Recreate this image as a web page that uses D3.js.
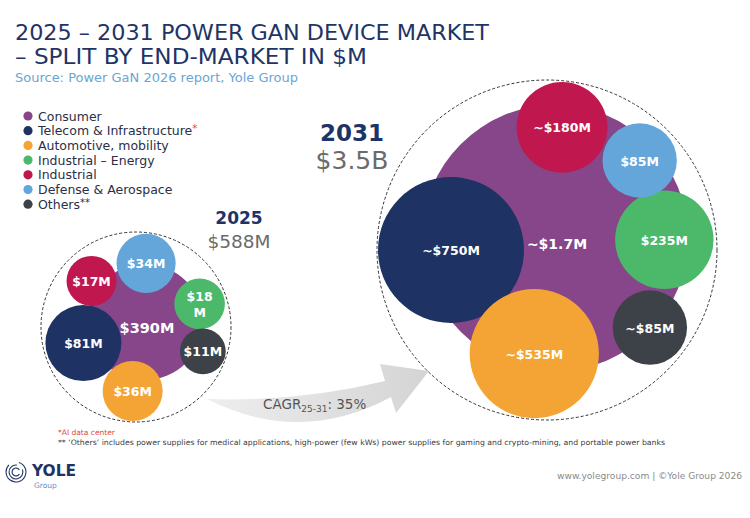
<!DOCTYPE html>
<html>
<head>
<meta charset="utf-8">
<script src="https://cdn.jsdelivr.net/npm/d3@7"></script>
<style>
  body { margin: 0; background: #fff; }
  svg { display: block; }
  text { font-family: "DejaVu Sans", "Open Sans", sans-serif; }
</style>
</head>
<body>
<svg id="chart"></svg>
<script>
// power GaN device market, split by end-market ($M)
var categories = ["Consumer", "Telecom & Infrastructure", "Automotive, mobility",
                  "Industrial \u2013 Energy", "Industrial", "Defense & Aerospace", "Others"];
var colors = ["#87468a", "#1e3263", "#f4a435", "#4cb86a", "#c0174f", "#64a6da", "#3c4248"];
var values2025 = [390, 81, 36, 18, 17, 34, 11];
var values2031 = [1700, 750, 535, 235, 180, 85, 85];
var labels2025 = ["$390M", "$81M", "$36M", "$18\nM", "$17M", "$34M", "$11M"];
var labels2031 = ["~$1.7M", "~$750M", "~$535M", "$235M", "~$180M", "$85M", "~$85M"];
var totals = ["$588M", "$3.5B"];
var years = ["2025", "2031"];
var cagr = "35%";

var svgWidth = 750, svgHeight = 518;
var navy = "#1f3466";

var svg = d3.select("#chart")
    .attr("width", svgWidth)
    .attr("height", svgHeight);

svg.append("rect").attr("width", svgWidth).attr("height", svgHeight).attr("fill", "#fff");

// title
svg.append("text").attr("x", 15).attr("y", 40)
    .attr("font-size", 21).attr("fill", navy)
    .attr("textLength", 474).attr("lengthAdjust", "spacingAndGlyphs")
    .text("2025 \u2013 2031 POWER GAN DEVICE MARKET");
svg.append("text").attr("x", 15).attr("y", 64)
    .attr("font-size", 21).attr("fill", navy)
    .attr("textLength", 352).attr("lengthAdjust", "spacingAndGlyphs")
    .text("\u2013 SPLIT BY END-MARKET IN $M");
svg.append("text").attr("x", 15).attr("y", 82)
    .attr("font-size", 13).attr("fill", "#6aa6d2")
    .attr("textLength", 283).attr("lengthAdjust", "spacingAndGlyphs")
    .text("Source: Power GaN 2026 report, Yole Group");

// legend
var legend = svg.selectAll("g.legend")
    .data(categories)
    .enter()
    .append("g")
    .attr("class", "legend")
    .attr("transform", function(d, i) {
        return "translate(28," + (116 + i * 14.7) + ")";
    });
legend.append("circle").attr("r", 4.6)
    .attr("fill", function(d, i) { return colors[i]; });
var legText = legend.append("text").attr("x", 10).attr("y", 4.5)
    .attr("font-size", 12.5).attr("fill", "#2b2f45")
    .text(function(d) { return d; });
legText.filter(function(d, i) { return i === 1; })
    .append("tspan").attr("fill", "#e0473f").attr("font-size", 10).attr("dy", -3).text("*");
legText.filter(function(d, i) { return i === 6; })
    .append("tspan").attr("font-size", 10).attr("dy", -3).text("**");

// arrow between the two years
var defs = svg.append("defs");
var grad = defs.append("linearGradient").attr("id", "arrowGrad")
    .attr("x1", "0%").attr("x2", "100%");
grad.append("stop").attr("offset", "0%").attr("stop-color", "#eeeeee");
grad.append("stop").attr("offset", "100%").attr("stop-color", "#d4d4d4");

var arrow = d3.path();
arrow.moveTo(207, 399);
arrow.quadraticCurveTo(300, 446, 391, 397);
arrow.lineTo(396, 413);
arrow.lineTo(429, 371);
arrow.lineTo(380, 364);
arrow.lineTo(385, 381);
arrow.quadraticCurveTo(300, 402, 207, 399);
arrow.closePath();
svg.append("path").attr("d", arrow.toString()).attr("fill", "url(#arrowGrad)");

var cagrText = svg.append("text").attr("x", 263).attr("y", 409)
    .attr("font-size", 13.5).attr("fill", "#555");
cagrText.append("tspan").text("CAGR");
cagrText.append("tspan").attr("font-size", 9).attr("dy", 3).text("25-31");
cagrText.append("tspan").attr("dy", -3).text(": " + cagr);

// panels: layout of each year's bubble cluster
var panels = [
    { values: values2025, labels: labels2025, cx: 136, cy: 327, R: 95,
      coreR: 58, coreDx: 9, coreDy: -5,
      rScale: d3.scaleSqrt().domain([0, 81]).range([14, 38]),
      angles: [0, 163, 93, 340, 226, 279, 20], gap: [0, 2, 1, 2, 6, 1, 1],
      fontSize: 12.5, coreFont: 14.5,
      yearX: 239, yearY: 224, yearSize: 17, totalY: 248, totalSize: 18.5 },
    { values: values2031, labels: labels2031, cx: 547, cy: 250, R: 170,
      coreR: 133, coreDx: 8, coreDy: -12,
      rScale: d3.scaleSqrt().domain([0, 750]).range([19, 73]),
      angles: [0, 180, 97, 355, 277, 316, 37], gap: [0, 1, 1, 3, 1, 4, 4],
      fontSize: 12.5, coreFont: 14,
      yearX: 352, yearY: 141, yearSize: 23, totalY: 169, totalSize: 25 }
];

panels.forEach(function(p, k) {
    var g = svg.append("g");

    var nodes = p.values.map(function(v, i) {
        if (i === 0) {
            return { i: i, v: v, r: p.coreR, x: p.cx + p.coreDx, y: p.cy + p.coreDy };
        }
        var r = p.rScale(v);
        var dist = p.R - r - p.gap[i];
        var a = p.angles[i] * Math.PI / 180;
        return { i: i, v: v, r: r, x: p.cx + dist * Math.cos(a), y: p.cy + dist * Math.sin(a) };
    });

    g.selectAll("circle.bubble")
        .data(nodes)
        .enter()
        .append("circle")
        .attr("class", "bubble")
        .attr("cx", function(d) { return d.x; })
        .attr("cy", function(d) { return d.y; })
        .attr("r", function(d) { return d.r; })
        .attr("fill", function(d) { return colors[d.i]; });

    // dashed envelope
    g.append("circle")
        .attr("cx", p.cx).attr("cy", p.cy).attr("r", p.R)
        .attr("fill", "none").attr("stroke", "#333")
        .attr("stroke-width", 1).attr("stroke-dasharray", "3,2");

    g.selectAll("text.lbl")
        .data(nodes)
        .enter()
        .append("text")
        .attr("class", "lbl")
        .attr("text-anchor", "middle")
        .attr("fill", "#fff")
        .attr("font-weight", "bold")
        .attr("font-size", function(d) { return d.i === 0 ? p.coreFont : p.fontSize; })
        .attr("x", function(d) { return d.i === 0 ? d.x + 2 : d.x; })
        .attr("y", function(d) { return d.i === 0 ? d.y + 6 : d.y; })
        .each(function(d) {
            var lines = p.labels[d.i].split("\n");
            var t = d3.select(this);
            lines.forEach(function(line, j) {
                t.append("tspan")
                    .attr("x", d.i === 0 ? d.x + 2 : d.x)
                    .attr("dy", j === 0 ? (5 - (lines.length - 1) * 8) + "px" : "16px")
                    .text(line);
            });
        });

    g.append("text").attr("x", p.yearX).attr("y", p.yearY)
        .attr("text-anchor", "middle").attr("font-weight", "bold")
        .attr("font-size", p.yearSize).attr("fill", navy)
        .text(years[k]);
    g.append("text").attr("x", p.yearX).attr("y", p.totalY)
        .attr("text-anchor", "middle")
        .attr("font-size", p.totalSize).attr("fill", "#6b6b6b")
        .text(totals[k]);
});

// footnotes
svg.append("text").attr("x", 58).attr("y", 435)
    .attr("font-size", 7.5).attr("fill", "#e0473f")
    .text("*AI data center");
svg.append("text").attr("x", 58).attr("y", 445)
    .attr("font-size", 7.5).attr("fill", "#3a3a3a")
    .attr("textLength", 607).attr("lengthAdjust", "spacingAndGlyphs")
    .text("** \u2018Others\u2019 includes power supplies for medical applications, high-power (few kWs) power supplies for gaming and crypto-mining, and portable power banks");

// logo
var logo = svg.append("g").attr("transform", "translate(16,472)");
[10.5, 7.5, 4.5].forEach(function(r, i) {
    var arc = d3.arc()
        .innerRadius(r - 1.1).outerRadius(r)
        .startAngle(0.3 + i * 0.9).endAngle(0.3 + i * 0.9 + 5.2);
    logo.append("path").attr("d", arc()).attr("fill", navy);
});
svg.append("text").attr("x", 32).attr("y", 476)
    .attr("font-size", 16).attr("font-weight", "bold").attr("fill", navy)
    .attr("textLength", 44).attr("lengthAdjust", "spacingAndGlyphs")
    .text("YOLE");
svg.append("text").attr("x", 34).attr("y", 488)
    .attr("font-size", 7.5).attr("fill", "#5b8fc7")
    .text("Group");

svg.append("text").attr("x", 742).attr("y", 479)
    .attr("text-anchor", "end")
    .attr("font-size", 9.5).attr("fill", "#8a8a8a")
    .attr("textLength", 185).attr("lengthAdjust", "spacingAndGlyphs")
    .text("www.yolegroup.com | \u00a9Yole Group 2026");
</script>
</body>
</html>
